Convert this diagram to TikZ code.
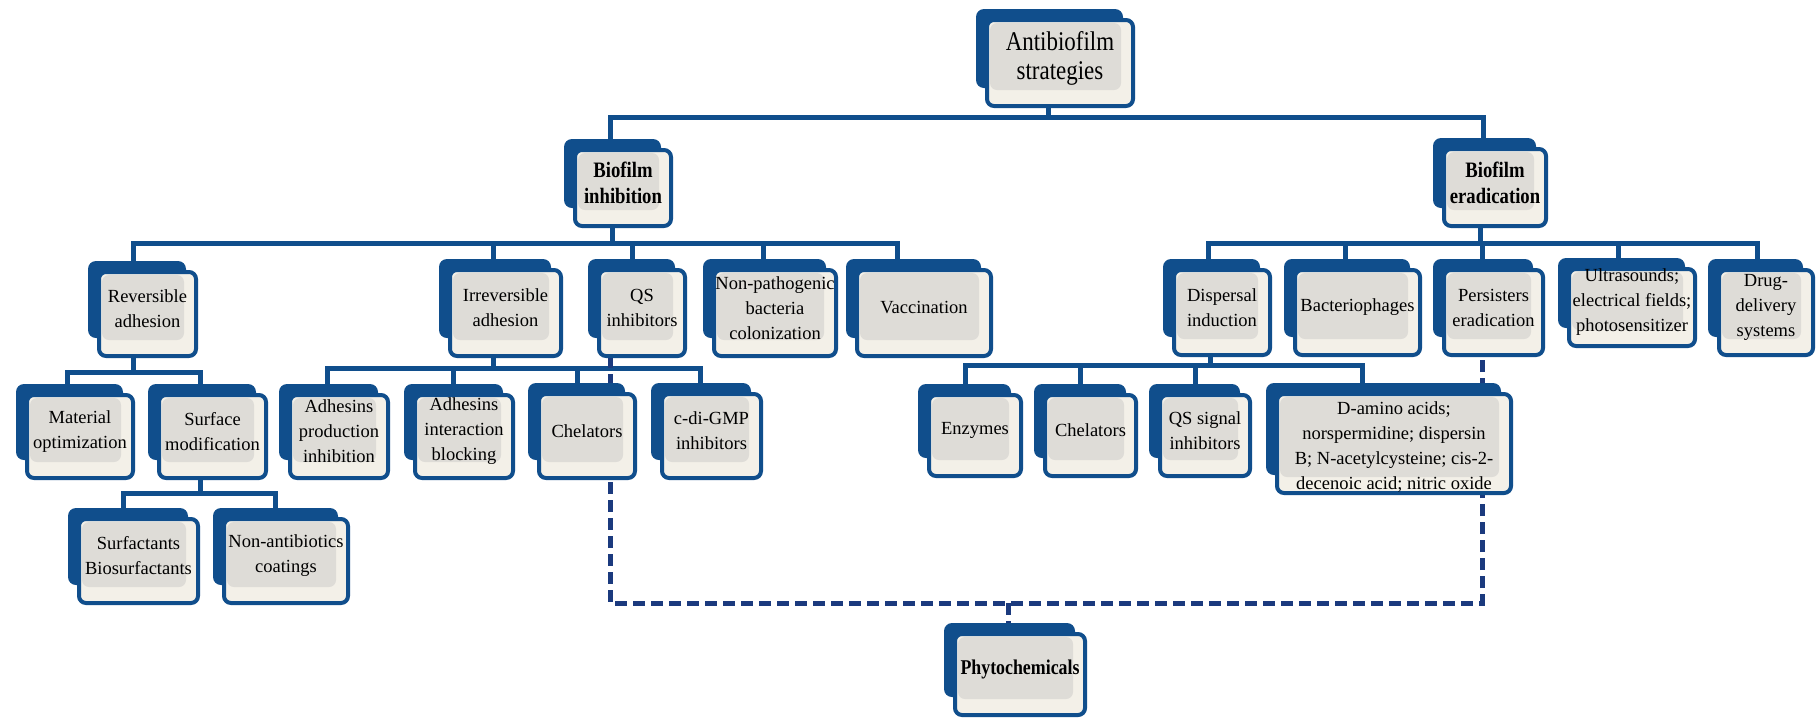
\documentclass[tikz,border=0pt]{standalone}
\usepackage{fontspec}
\setmainfont{Liberation Serif}
\newfontfamily\condfont{Liberation Serif}[FakeStretch=0.85]
\definecolor{boxblue}{HTML}{104E8C}
\definecolor{dashblue}{HTML}{1B3A7E}
\definecolor{cream}{HTML}{F3F0E8}
\definecolor{innergray}{HTML}{DEDCD7}
\pgfdeclarelayer{bg}\pgfdeclarelayer{mid}\pgfsetlayers{bg,mid,main}
\newcommand\bx[7]{\node[frontbox,minimum width={(#4-#2-4)*1pt},minimum height={(#5-#3-4)*1pt}] (#1) at ({(#2+#4)/2},{(#3+#5)/2}) {};
  \node[boxtext,#6] (#1-t) at ([yshift=5pt]#1.center) {#7};}
\begin{document}
\begin{tikzpicture}[x=1pt,y=-1pt,
 frontbox/.style={draw=boxblue,line width=4pt,fill=cream,rounded corners=7pt,inner sep=0pt,outer sep=0pt,
   path picture={\fill[innergray] ([xshift=3pt,yshift=-3pt]path picture bounding box.north west) rectangle ([xshift=-12pt,yshift=16pt]path picture bounding box.south east);}},
 boxtext/.style={inner sep=0pt,align=center,font=\fontsize{18.5}{25}\selectfont},
 plain/.style={},
 lowtext/.style={yshift=-8pt},
 title/.style={font=\fontsize{22}{26}\selectfont\condfont\bfseries},
 phytitle/.style={font=\fontsize{21}{26}\selectfont\condfont\bfseries},
 roottitle/.style={font=\fontsize{27}{29}\selectfont\condfont},
 conn/.style={draw=boxblue,line width=5pt,line cap=rect},
 dconn/.style={draw=dashblue,line width=5pt,dash pattern=on 12pt off 6pt}]
\useasboundingbox (0,0) rectangle (1818,721);
\begin{pgfonlayer}{bg}
\fill[white] (0,0) rectangle (1818,721);
\end{pgfonlayer}
% boxes
\bx{root}{985}{18}{1135}{108}{roottitle}{Antibiofilm\\strategies}
\bx{inh}{573}{148}{673}{228}{title}{Biofilm\\inhibition}
\bx{era}{1442}{147}{1548}{228}{title}{Biofilm\\eradication}
\bx{rev}{97}{270}{198}{358}{plain}{Reversible\\adhesion}
\bx{irr}{448}{268}{563}{358}{plain}{Irreversible\\adhesion}
\bx{qs}{597}{268}{687}{358}{plain}{QS\\inhibitors}
\bx{nonpath}{712}{268}{838}{358}{plain}{Non-pathogenic\\bacteria\\colonization}
\bx{vacc}{855}{268}{993}{358}{plain}{Vaccination}
\bx{disp}{1172}{268}{1272}{357}{plain}{Dispersal\\induction}
\bx{bact}{1293}{268}{1422}{357}{plain}{Bacteriophages}
\bx{pers}{1442}{268}{1545}{357}{plain}{Persisters\\eradication}
\bx{ultra}{1567}{267}{1697}{348}{plain}{Ultrasounds;\\electrical fields;\\photosensitizer}
\bx{drug}{1717}{268}{1815}{357}{plain}{Drug-\\delivery\\systems}
\bx{mat}{25}{393}{135}{480}{plain}{Material\\optimization}
\bx{surf}{157}{393}{268}{480}{plain}{Surface\\modification}
\bx{adhp}{288}{393}{390}{480}{plain}{Adhesins\\production\\inhibition}
\bx{adhi}{413}{393}{515}{480}{plain}{Adhesins\\interaction\\blocking}
\bx{chel}{537}{392}{637}{480}{plain}{Chelators}
\bx{cdi}{660}{392}{763}{480}{plain}{c-di-GMP\\inhibitors}
\bx{enz}{927}{393}{1023}{478}{plain}{Enzymes}
\bx{chelb}{1043}{393}{1138}{478}{plain}{Chelators}
\bx{qss}{1158}{393}{1252}{478}{plain}{QS signal\\inhibitors}
\bx{damino}{1275}{392}{1513}{495}{lowtext}{D-amino acids;\\norspermidine; dispersin\\B; N-acetylcysteine; cis-2-\\decenoic acid; nitric oxide}
\bx{sfact}{77}{517}{200}{605}{plain}{Surfactants\\Biosurfactants}
\bx{nonab}{222}{517}{350}{605}{plain}{Non-antibiotics\\coatings}
\bx{phyto}{953}{632}{1087}{717}{phytitle}{Phytochemicals}
% back boxes
\begin{pgfonlayer}{mid}
\foreach \n in {root,inh,era,rev,irr,qs,nonpath,vacc,disp,bact,pers,ultra,drug,mat,surf,adhp,adhi,chel,cdi,enz,chelb,qss,damino,sfact,nonab,phyto}{
  \fill[boxblue,rounded corners=8pt] ([xshift=-11pt,yshift=11pt]\n.north west) rectangle ([xshift=-10pt,yshift=18pt]\n.south east);}
\end{pgfonlayer}
% connectors
\begin{pgfonlayer}{bg}
\draw[conn] (root.south -| 1048,0) |- (610,117) -- (inh.north -| 610,0);
\draw[conn] (1048,117) -| (era.north -| 1483,0);
\draw[conn] (inh.south -| 612,0) -- (612,243);
\draw[conn] (rev.north -| 133,0) |- (897,243) -- (vacc.north -| 897,0);
\foreach \x/\n in {493/irr,632/qs,763/nonpath}{\draw[conn] (\x,243) -- (\n.north -| \x,0);}
\draw[conn] (era.south -| 1480,0) -- (1480,243);
\draw[conn] (disp.north -| 1208,0) |- (1757,243) -- (drug.north -| 1757,0);
\foreach \x/\n in {1345/bact,1482/pers,1618/ultra}{\draw[conn] (\x,243) -- (\n.north -| \x,0);}
\draw[conn] (rev.south -| 133,0) -- (133,372);
\draw[conn] (mat.north -| 67,0) |- (200,372) -- (surf.north -| 200,0);
\draw[conn] (irr.south -| 493,0) -- (493,368);
\draw[conn] (adhp.north -| 327,0) |- (700,368) -- (cdi.north -| 700,0);
\foreach \x/\n in {453/adhi,577/chel}{\draw[conn] (\x,368) -- (\n.north -| \x,0);}
\draw[conn] (surf.south -| 200,0) -- (200,493);
\draw[conn] (sfact.north -| 123,0) |- (275,493) -- (nonab.north -| 275,0);
\draw[conn] (disp.south -| 1210,0) -- (1210,365);
\draw[conn] (enz.north -| 965,0) |- (1362,365) -- (damino.north -| 1362,0);
\foreach \x/\n in {1080/chelb,1195/qss}{\draw[conn] (\x,365) -- (\n.north -| \x,0);}
\draw[dconn] (qs.south -| 610,0) -- (610,603) -- (1482,603) -- (pers.south -| 1482,0);
\draw[dconn] (1008,603) -- (phyto.north -| 1008,0);
\end{pgfonlayer}
\end{tikzpicture}
\end{document}
